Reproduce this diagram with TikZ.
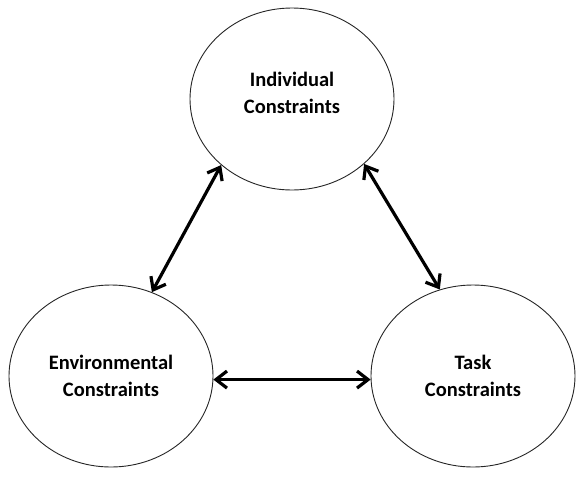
\documentclass[tikz,border=0pt]{standalone}
\usepackage{fontspec}
\setmainfont{Carlito}
\usetikzlibrary{shapes.geometric,arrows.meta}

\tikzset{
  constraint/.style={ellipse,draw=black!85,line width=0.9pt,inner sep=0pt,
    minimum width=204pt,minimum height=182pt,align=center,
    font=\fontsize{20.5}{27}\selectfont\bfseries},
  link/.style={line width=3.2pt,{Straight Barb[length=11pt,width=17pt]}-{Straight Barb[length=11pt,width=17pt]}}
}

\begin{document}
\begin{tikzpicture}[x=1pt,y=-1pt]
  \useasboundingbox (0,0) rectangle (576,488);
  \node[constraint] (indiv) at (292,99) {Individual\\Constraints\\[-15pt]\mbox{}};
  \node[constraint] (envir) at (111,376) {Environmental\\Constraints};
  \node[constraint] (task) at (473,376) {Task\\Constraints};
  \draw[link] (indiv.223) -- (envir.64);
  \draw[link] (indiv.318) -- (task.111);
  \draw[link] (envir.-2) -- (task.182);
\end{tikzpicture}
\end{document}
